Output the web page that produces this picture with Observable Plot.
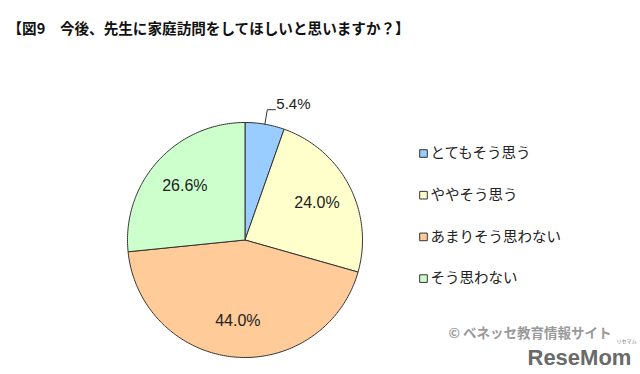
<!DOCTYPE html>
<html><head><meta charset="utf-8">
<script src="https://cdn.jsdelivr.net/npm/d3@7"></script>
<script src="https://cdn.jsdelivr.net/npm/@observablehq/plot@0.6"></script>
<style>body{margin:0;background:#fff}</style>
</head><body><div id="chart"></div>
<script>
const title = "【図9　今後、先生に家庭訪問をしてほしいと思いますか？】";
const categories = ["とてもそう思う", "ややそう思う", "あまりそう思わない", "そう思わない"];
const values = [5.4, 24.0, 44.0, 26.6];
const valueLabels = ["5.4%", "24.0%", "44.0%", "26.6%"];
const colors = ["#99ccff", "#ffffcc", "#ffcc99", "#ccffcc"];
const credit = "© ベネッセ教育情報サイト";
const logo = "ReseMom";
const logoKana = "リセマム";

const W = 640, H = 374, CX = 244.5, CY = 239.5, R = 117.5;
const ux = px => (px - CX) / R;
const uy = py => (CY - py) / R;

const arcs = d3.pie().sort(null).startAngle(0).endAngle(2 * Math.PI)(values);
const slices = [];
arcs.forEach((a, i) => {
  const cat = categories[i];
  slices.push({cat, x: 0, y: 0});
  const n = Math.max(2, Math.ceil((a.endAngle - a.startAngle) * 180 / Math.PI));
  for (let k = 0; k <= n; k++) {
    const t = a.startAngle + (a.endAngle - a.startAngle) * k / n;
    slices.push({cat, x: Math.sin(t), y: Math.cos(t)});
  }
  slices.push({cat, x: 0, y: 0});
});
const mid = a => (a.startAngle + a.endAngle) / 2;
const inner = arcs.map((a, i) => ({i, label: valueLabels[i], x: 0.69 * Math.sin(mid(a)), y: 0.69 * Math.cos(mid(a))})).filter(d => d.i !== 0);
const m0 = mid(arcs[0]);
const leader = [
  {x: Math.sin(m0), y: Math.cos(m0)},
  {x: 1.125 * Math.sin(m0), y: 1.125 * Math.cos(m0)},
  {x: 1.125 * Math.sin(m0) + 8 / R, y: 1.125 * Math.cos(m0)}
];
const outerLabel = [{label: valueLabels[0], x: leader[2].x, y: leader[2].y}];

const legendRows = categories.map((c, i) => ({cat: c, x: ux(423), tx: ux(430), y: uy(153 + 41.7 * i)}));

const chart = Plot.plot({
  width: W, height: H, margin: 0,
  x: {domain: [-1, 1], range: [CX - R, CX + R], axis: null},
  y: {domain: [-1, 1], range: [CY + R, CY - R], axis: null},
  color: {domain: categories, range: colors},
  style: {fontFamily: "'Noto Sans CJK JP', sans-serif", background: "#fff", overflow: "visible"},
  marks: [
    Plot.text([title], {frameAnchor: "top-left", dx: 7, dy: 29, text: d => d, textAnchor: "start", lineAnchor: "middle", fontSize: 14.6, fontWeight: "bold", fill: "#111"}),
    Plot.line(slices, {x: "x", y: "y", z: "cat", fill: "cat", stroke: "#333", strokeWidth: 1, strokeLinejoin: "round"}),
    Plot.line(leader, {x: "x", y: "y", stroke: "#333", strokeWidth: 1}),
    Plot.text(outerLabel, {x: "x", y: "y", text: "label", textAnchor: "start", dx: 1, dy: -6, fontSize: 15, fontFamily: "'Liberation Sans', Arial, sans-serif", fill: "#222"}),
    Plot.text(inner, {x: "x", y: "y", text: "label", fontSize: 16, fontFamily: "'Liberation Sans', Arial, sans-serif", fill: "#222"}),
    Plot.dot(legendRows, {x: "x", y: "y", fill: "cat", stroke: "#333", strokeWidth: 1, symbol: "square", r: 4.3}),
    Plot.text(legendRows, {x: "tx", y: "y", text: "cat", textAnchor: "start", fontSize: 14.5, fill: "#222"}),
    Plot.text([credit], {frameAnchor: "top-left", dx: 448, dy: 333, text: d => d, textAnchor: "start", lineAnchor: "middle", fontSize: 13.5, fontWeight: "bold", fill: "#9a9a9a"}),
    Plot.text([logo], {frameAnchor: "top-left", dx: 527, dy: 357, text: d => d, textAnchor: "start", lineAnchor: "middle", fontSize: 22, fontWeight: "bold", fill: "#6a6a6a", fontFamily: "'Liberation Sans', Arial, sans-serif", letterSpacing: -0.3}),
    Plot.text([logoKana], {frameAnchor: "top-left", dx: 616, dy: 341, text: d => d, textAnchor: "start", lineAnchor: "middle", fontSize: 5, fill: "#777"})
  ]
});
document.getElementById("chart").appendChild(chart);
</script>
</body></html>
